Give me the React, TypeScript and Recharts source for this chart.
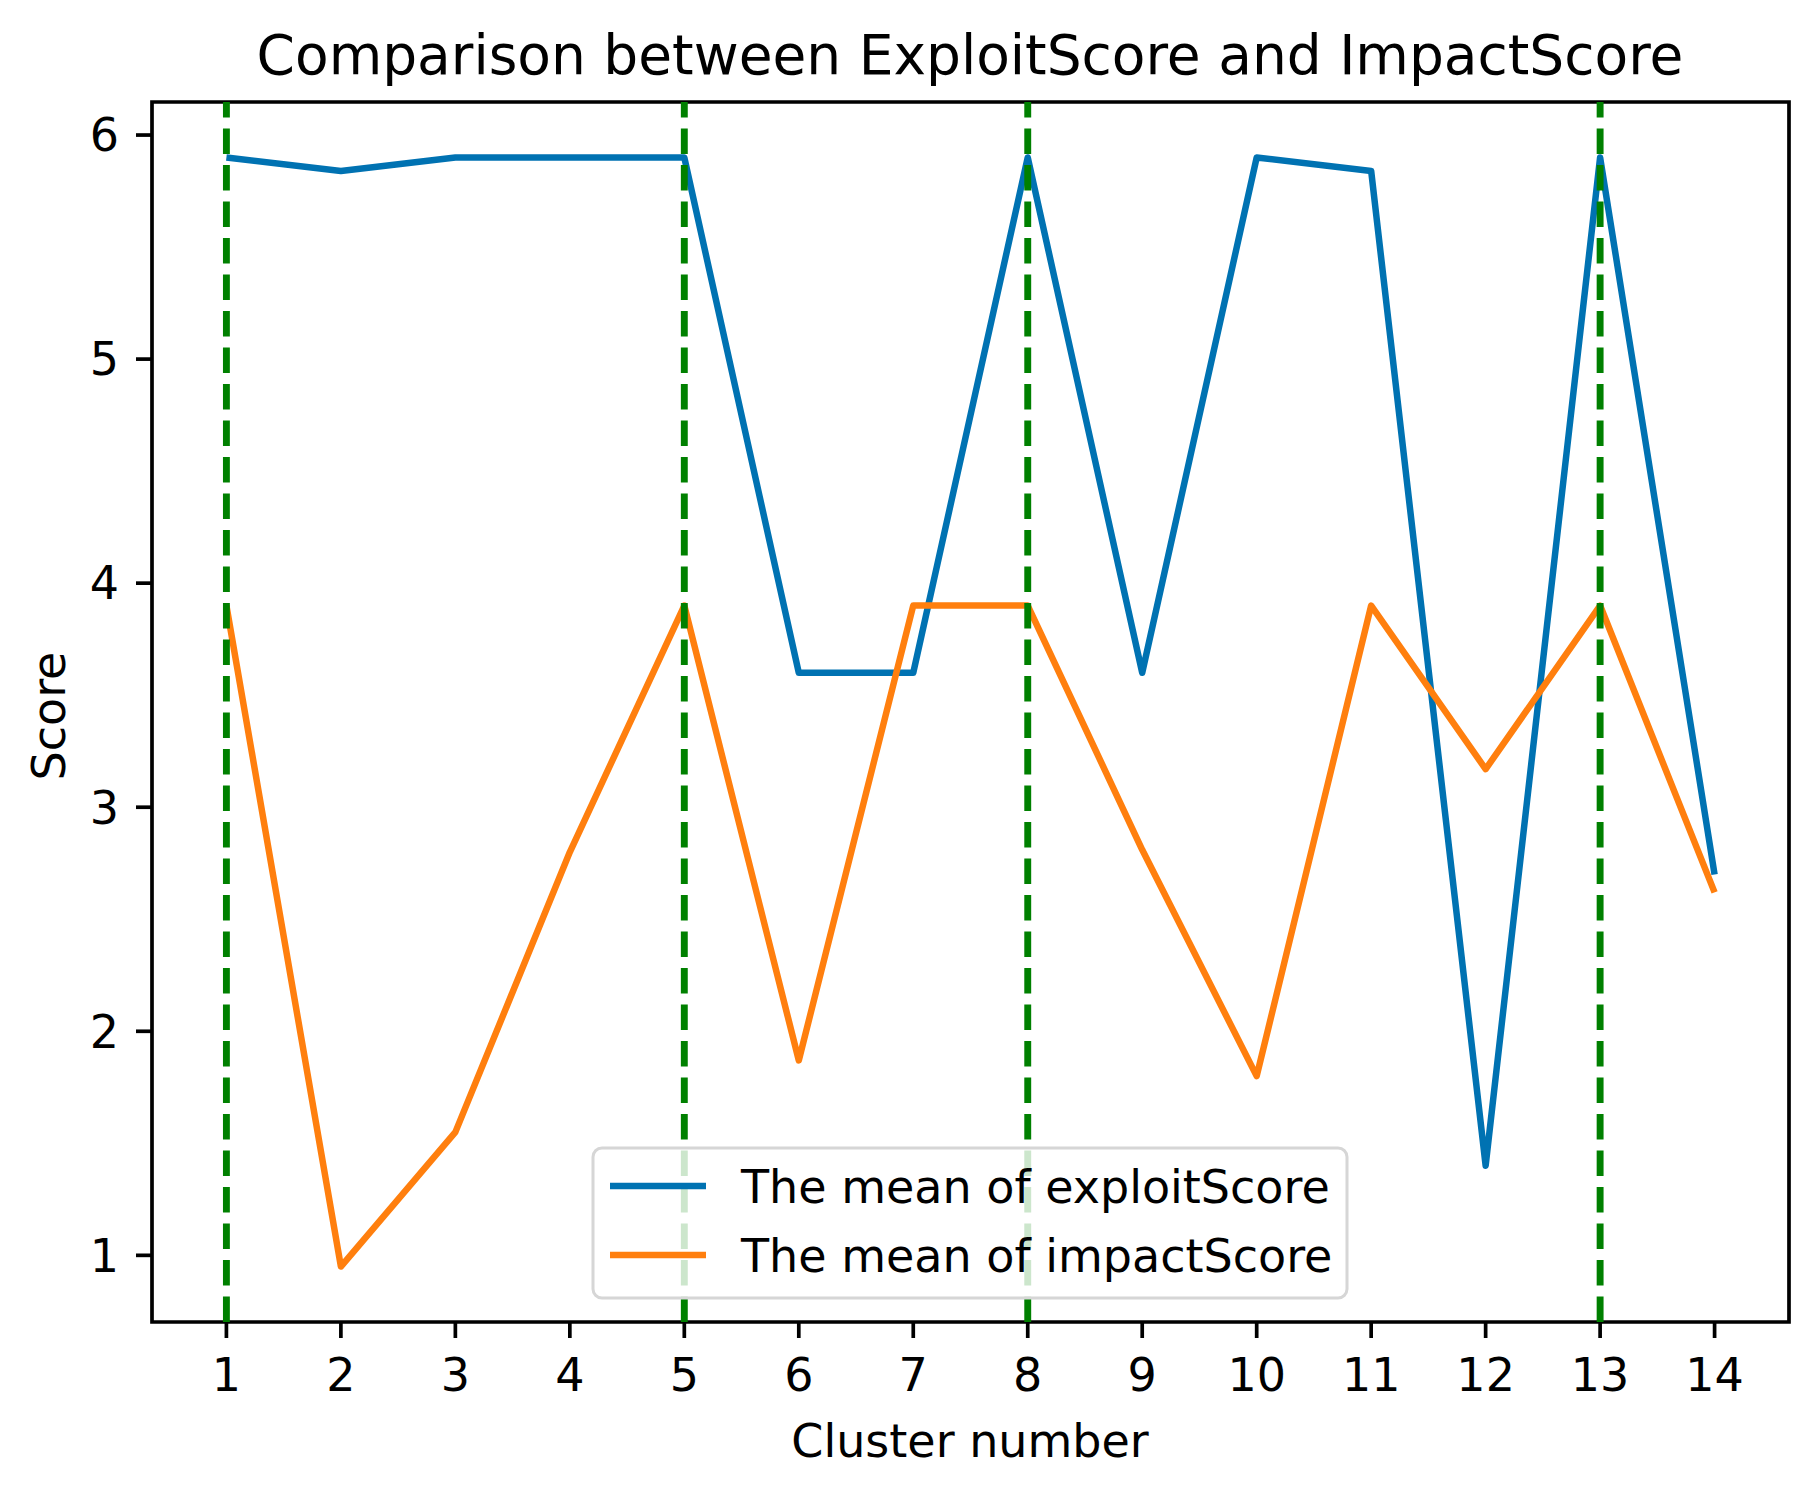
import React from "react";
import {
  LineChart,
  Line,
  XAxis,
  YAxis,
  ReferenceLine,
  ReferenceArea,
} from "recharts";

const clusters = [1, 2, 3, 4, 5, 6, 7, 8, 9, 10, 11, 12, 13, 14];
const exploitScore = [5.9, 5.84, 5.9, 5.9, 5.9, 3.6, 3.6, 5.9, 3.6, 5.9, 5.84, 1.4, 5.9, 2.7];
const impactScore = [3.9, 0.95, 1.55, 2.8, 3.9, 1.87, 3.9, 3.9, 2.81, 1.8, 3.9, 3.17, 3.9, 2.62];
const markedClusters = [1, 5, 8, 13];
const yTicks = [1, 2, 3, 4, 5, 6];

const seriesNames = ["The mean of exploitScore", "The mean of impactScore"];
const seriesColors = ["#0072b2", "#ff7f0e"];

const FONT = "DejaVu Sans";
const X_DOMAIN: [number, number] = [0.35, 14.65];
const Y_DOMAIN: [number, number] = [0.7025, 6.1475];

const chartData = clusters.map((c, i) => ({
  cluster: c,
  exploit: exploitScore[i],
  impact: impactScore[i],
}));

const tickStyle = { fill: "#000", fontSize: 46, fontFamily: FONT };
const tickLineStyle = { stroke: "#000", strokeWidth: 3.7 };

export default function App() {
  return (
    <div style={{ position: "absolute", left: 0, top: 0, width: 1816, height: 1487, background: "#fff" }}>
      <LineChart
        width={1816}
        height={1487}
        data={chartData}
        margin={{ top: 102, right: 27, bottom: 105, left: 0 }}
      >
        <XAxis
          dataKey="cluster"
          type="number"
          domain={X_DOMAIN}
          ticks={clusters}
          interval={0}
          allowDataOverflow
          height={60}
          axisLine={false}
          tickLine={tickLineStyle}
          tickSize={16}
          tickMargin={20}
          tick={tickStyle}
        />
        <YAxis
          type="number"
          domain={Y_DOMAIN}
          ticks={yTicks}
          interval={0}
          allowDataOverflow
          width={152}
          axisLine={false}
          tickLine={tickLineStyle}
          tickSize={16}
          tickMargin={17}
          tick={tickStyle}
        />
        <ReferenceArea
          x1={X_DOMAIN[0]}
          x2={X_DOMAIN[1]}
          y1={Y_DOMAIN[0]}
          y2={Y_DOMAIN[1]}
          fill="none"
          fillOpacity={0}
          stroke="#000"
          strokeWidth={3.7}
          ifOverflow="visible"
        />
        <Line
          type="linear"
          dataKey="exploit"
          stroke={seriesColors[0]}
          strokeWidth={6.5}
          strokeLinejoin="round"
          dot={false}
          activeDot={false}
          isAnimationActive={false}
        />
        <Line
          type="linear"
          dataKey="impact"
          stroke={seriesColors[1]}
          strokeWidth={6.5}
          strokeLinejoin="round"
          dot={false}
          activeDot={false}
          isAnimationActive={false}
        />
        {markedClusters.map((c) => (
          <ReferenceLine
            key={c}
            x={c}
            stroke="#008000"
            strokeWidth={6.9}
            strokeDasharray="25.5 11"
          />
        ))}
      </LineChart>

      <svg
        width={1816}
        height={1487}
        style={{ position: "absolute", left: 0, top: 0, pointerEvents: "none" }}
        fontFamily={FONT}
      >
        <text x={970} y={74} textAnchor="middle" fontSize={55} fill="#000">
          Comparison between ExploitScore and ImpactScore
        </text>
        <text x={970} y={1457} textAnchor="middle" fontSize={46} fill="#000">
          Cluster number
        </text>
        <text
          x={65}
          y={716}
          textAnchor="middle"
          fontSize={46}
          fill="#000"
          transform="rotate(-90, 65, 716)"
        >
          Score
        </text>

        {/* legend */}
        <rect
          x={593}
          y={1148}
          width={754}
          height={150}
          rx={9}
          fill="#fff"
          fillOpacity={0.8}
          stroke="#d6d6d6"
          strokeWidth={3}
        />
        {seriesNames.map((name, i) => (
          <g key={name}>
            <line
              x1={610}
              x2={706}
              y1={1186 + i * 69}
              y2={1186 + i * 69}
              stroke={seriesColors[i]}
              strokeWidth={6.5}
            />
            <text x={741} y={1203 + i * 69} fontSize={46} fill="#000">
              {name}
            </text>
          </g>
        ))}
      </svg>
    </div>
  );
}
